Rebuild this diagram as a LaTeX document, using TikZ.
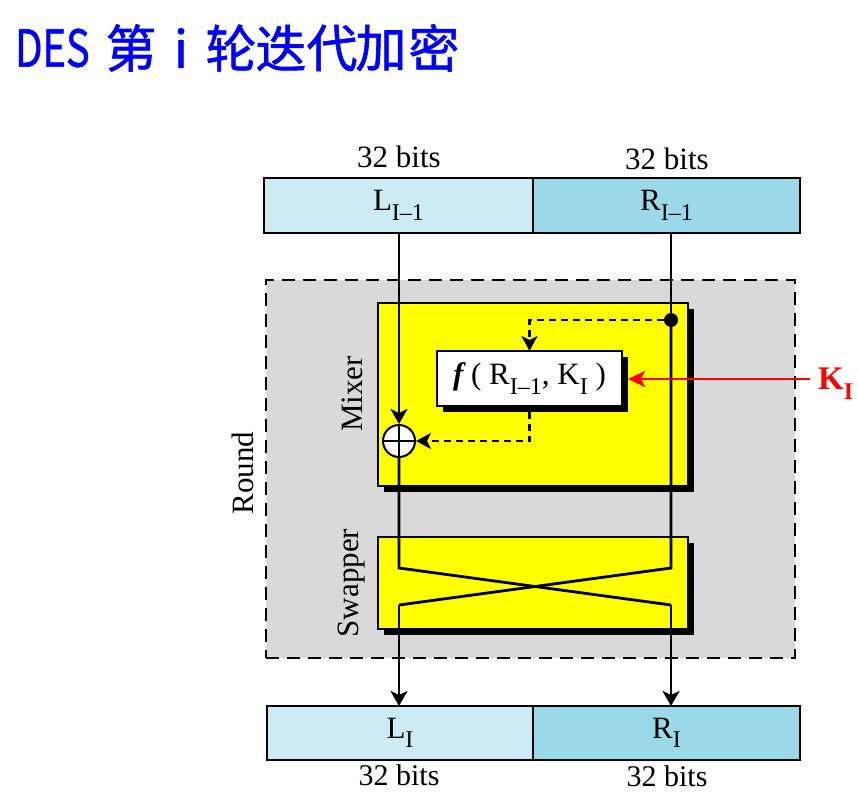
\documentclass[tikz,border=0pt]{standalone}
\usepackage{fontspec}
\setmainfont{Liberation Serif}
\newfontfamily\cjkfont[FakeBold=1.2]{Noto Sans CJK SC}
\usetikzlibrary{arrows.meta}
\definecolor{lcyan}{HTML}{CCEBF2}
\definecolor{dcyan}{HTML}{9BD9E8}
\definecolor{rgray}{HTML}{D9D9D9}
\definecolor{ylw}{HTML}{FFFF00}
\definecolor{tblue}{HTML}{0000FF}
\newcommand{\sbs}[1]{\raisebox{-0.3em}{\fontsize{24}{26}\selectfont #1}}
\begin{document}
\begin{tikzpicture}[x=1pt,y=-1pt,
  box/.style={draw, line width=2pt, inner sep=0pt, outer sep=0pt, anchor=north west, font=\fontsize{31}{33}\selectfont},
  shadowbox/.style={fill=black, inner sep=0pt, outer sep=0pt, anchor=north west},
  ttl/.style={text=tblue, font=\cjkfont\fontsize{51}{53}\selectfont, inner sep=0pt},
  lbl/.style={font=\fontsize{31}{33}\selectfont, inner sep=0pt},
  wire/.style={line width=2.8pt, black},
  arr/.style={wire, -{Stealth[length=15pt,width=17pt,inset=4pt]}},
  darr/.style={line width=2.2pt, dash pattern=on 7pt off 5pt, -{Stealth[length=15pt,width=16pt,inset=4pt]}},
]
\useasboundingbox (0,0) rectangle (858,794);
% title
\node[ttl, anchor=west] (tD) at (15,48) {\scalebox{0.78}[1]{DES}};
\node[ttl] (t1) at (131,48) {第};
\node[ttl] (t2) at (181,48) {i};
\node[ttl] (t3) at (231,48) {轮};
\node[ttl] (t4) at (281,48) {迭};
\node[ttl] (t5) at (332,48) {代};
\node[ttl] (t6) at (381,48) {加};
\node[ttl] (t7) at (434,48) {密};
% top register
\node[box, fill=lcyan, minimum width=269pt, minimum height=55pt] (L0) at (264,178) {L\sbs{I–1}};
\node[box, fill=dcyan, minimum width=267pt, minimum height=55pt] (R0) at (533,178) {R\sbs{I–1}};
\node[lbl] (b1) at (399,157) {32 bits};
\node[lbl] (b2) at (667,159) {32 bits};
% round
\node[box, fill=rgray, dash pattern=on 13pt off 8pt, line width=2pt, minimum width=529pt, minimum height=378pt] (rnd) at (266,280) {};
\node[lbl, rotate=90] (rndl) at (243,473) {Round};
% mixer
\node[shadowbox, minimum width=310pt, minimum height=183pt] (mixs) at (384,309) {};
\node[box, fill=ylw, minimum width=310pt, minimum height=183pt] (mix) at (378,303) {};
\node[lbl, rotate=90] (mixl) at (352,394) {Mixer};
% f box
\node[shadowbox, minimum width=185pt, minimum height=55pt] (fs) at (443,357) {};
\node[box, fill=white, minimum width=185pt, minimum height=55pt] (f) at (437,351) {\textbf{\textit{f}}\,( R\sbs{I–1}, K\sbs{I} )};
% swapper
\node[shadowbox, minimum width=310pt, minimum height=92pt] (sws) at (384,543) {};
\node[box, fill=ylw, minimum width=310pt, minimum height=92pt] (sw) at (378,537) {};
\node[lbl, rotate=90] (swl) at (352,583) {Swapper};
% bottom register
\node[box, fill=lcyan, minimum width=266pt, minimum height=54pt] (L1) at (267,706) {L\sbs{I}};
\node[box, fill=dcyan, minimum width=267pt, minimum height=54pt] (R1) at (533,706) {R\sbs{I}};
\node[lbl, font=\fontsize{30}{32}\selectfont] (b3) at (399,775) {32 bits};
\node[lbl, font=\fontsize{30}{32}\selectfont] (b4) at (667,776) {32 bits};
% xor and dot
\node[circle, draw, line width=2pt, fill=white, minimum size=32pt, inner sep=0pt] (xor) at (399,441) {};
\draw[line width=2pt] (xor.north) -- (xor.south) (xor.west) -- (xor.east);
\node[circle, fill=black, minimum size=14pt, inner sep=0pt] (dot) at (671,320) {};
% cross coordinates
\coordinate (cl1) at (399,568);
\coordinate (cr1) at (671,568);
\coordinate (cl2) at (399,605);
\coordinate (cr2) at (671,605);
% wires
\draw[arr] (L0.south -| xor) -- (xor.north);
\draw[wire] (R0.south -| dot) -- (dot);
\draw[wire] (dot) -- (cr1) -- (cl2);
\draw[arr] (cl2) -- (cl2 |- L1.north);
\draw[wire] (xor.south) -- (cl1) -- (cr2);
\draw[arr] (cr2) -- (cr2 |- R1.north);
% dashed f connections
\draw[darr] (dot) -- (dot -| f.north) -- (f.north);
\draw[darr] (fs.south -| f.north) -- (f.north |- xor) -- (xor.east);
% key
\node[text=red, font=\fontsize{33}{35}\selectfont\bfseries, inner sep=0pt, anchor=west] (K) at (818,384) {K\sbs{I}};
\coordinate (kin) at (810,379);
\draw[line width=2.8pt, red, -{Stealth[length=17pt,width=16pt,inset=4pt]}] (kin) -- (kin -| fs.east);
\end{tikzpicture}
\end{document}
